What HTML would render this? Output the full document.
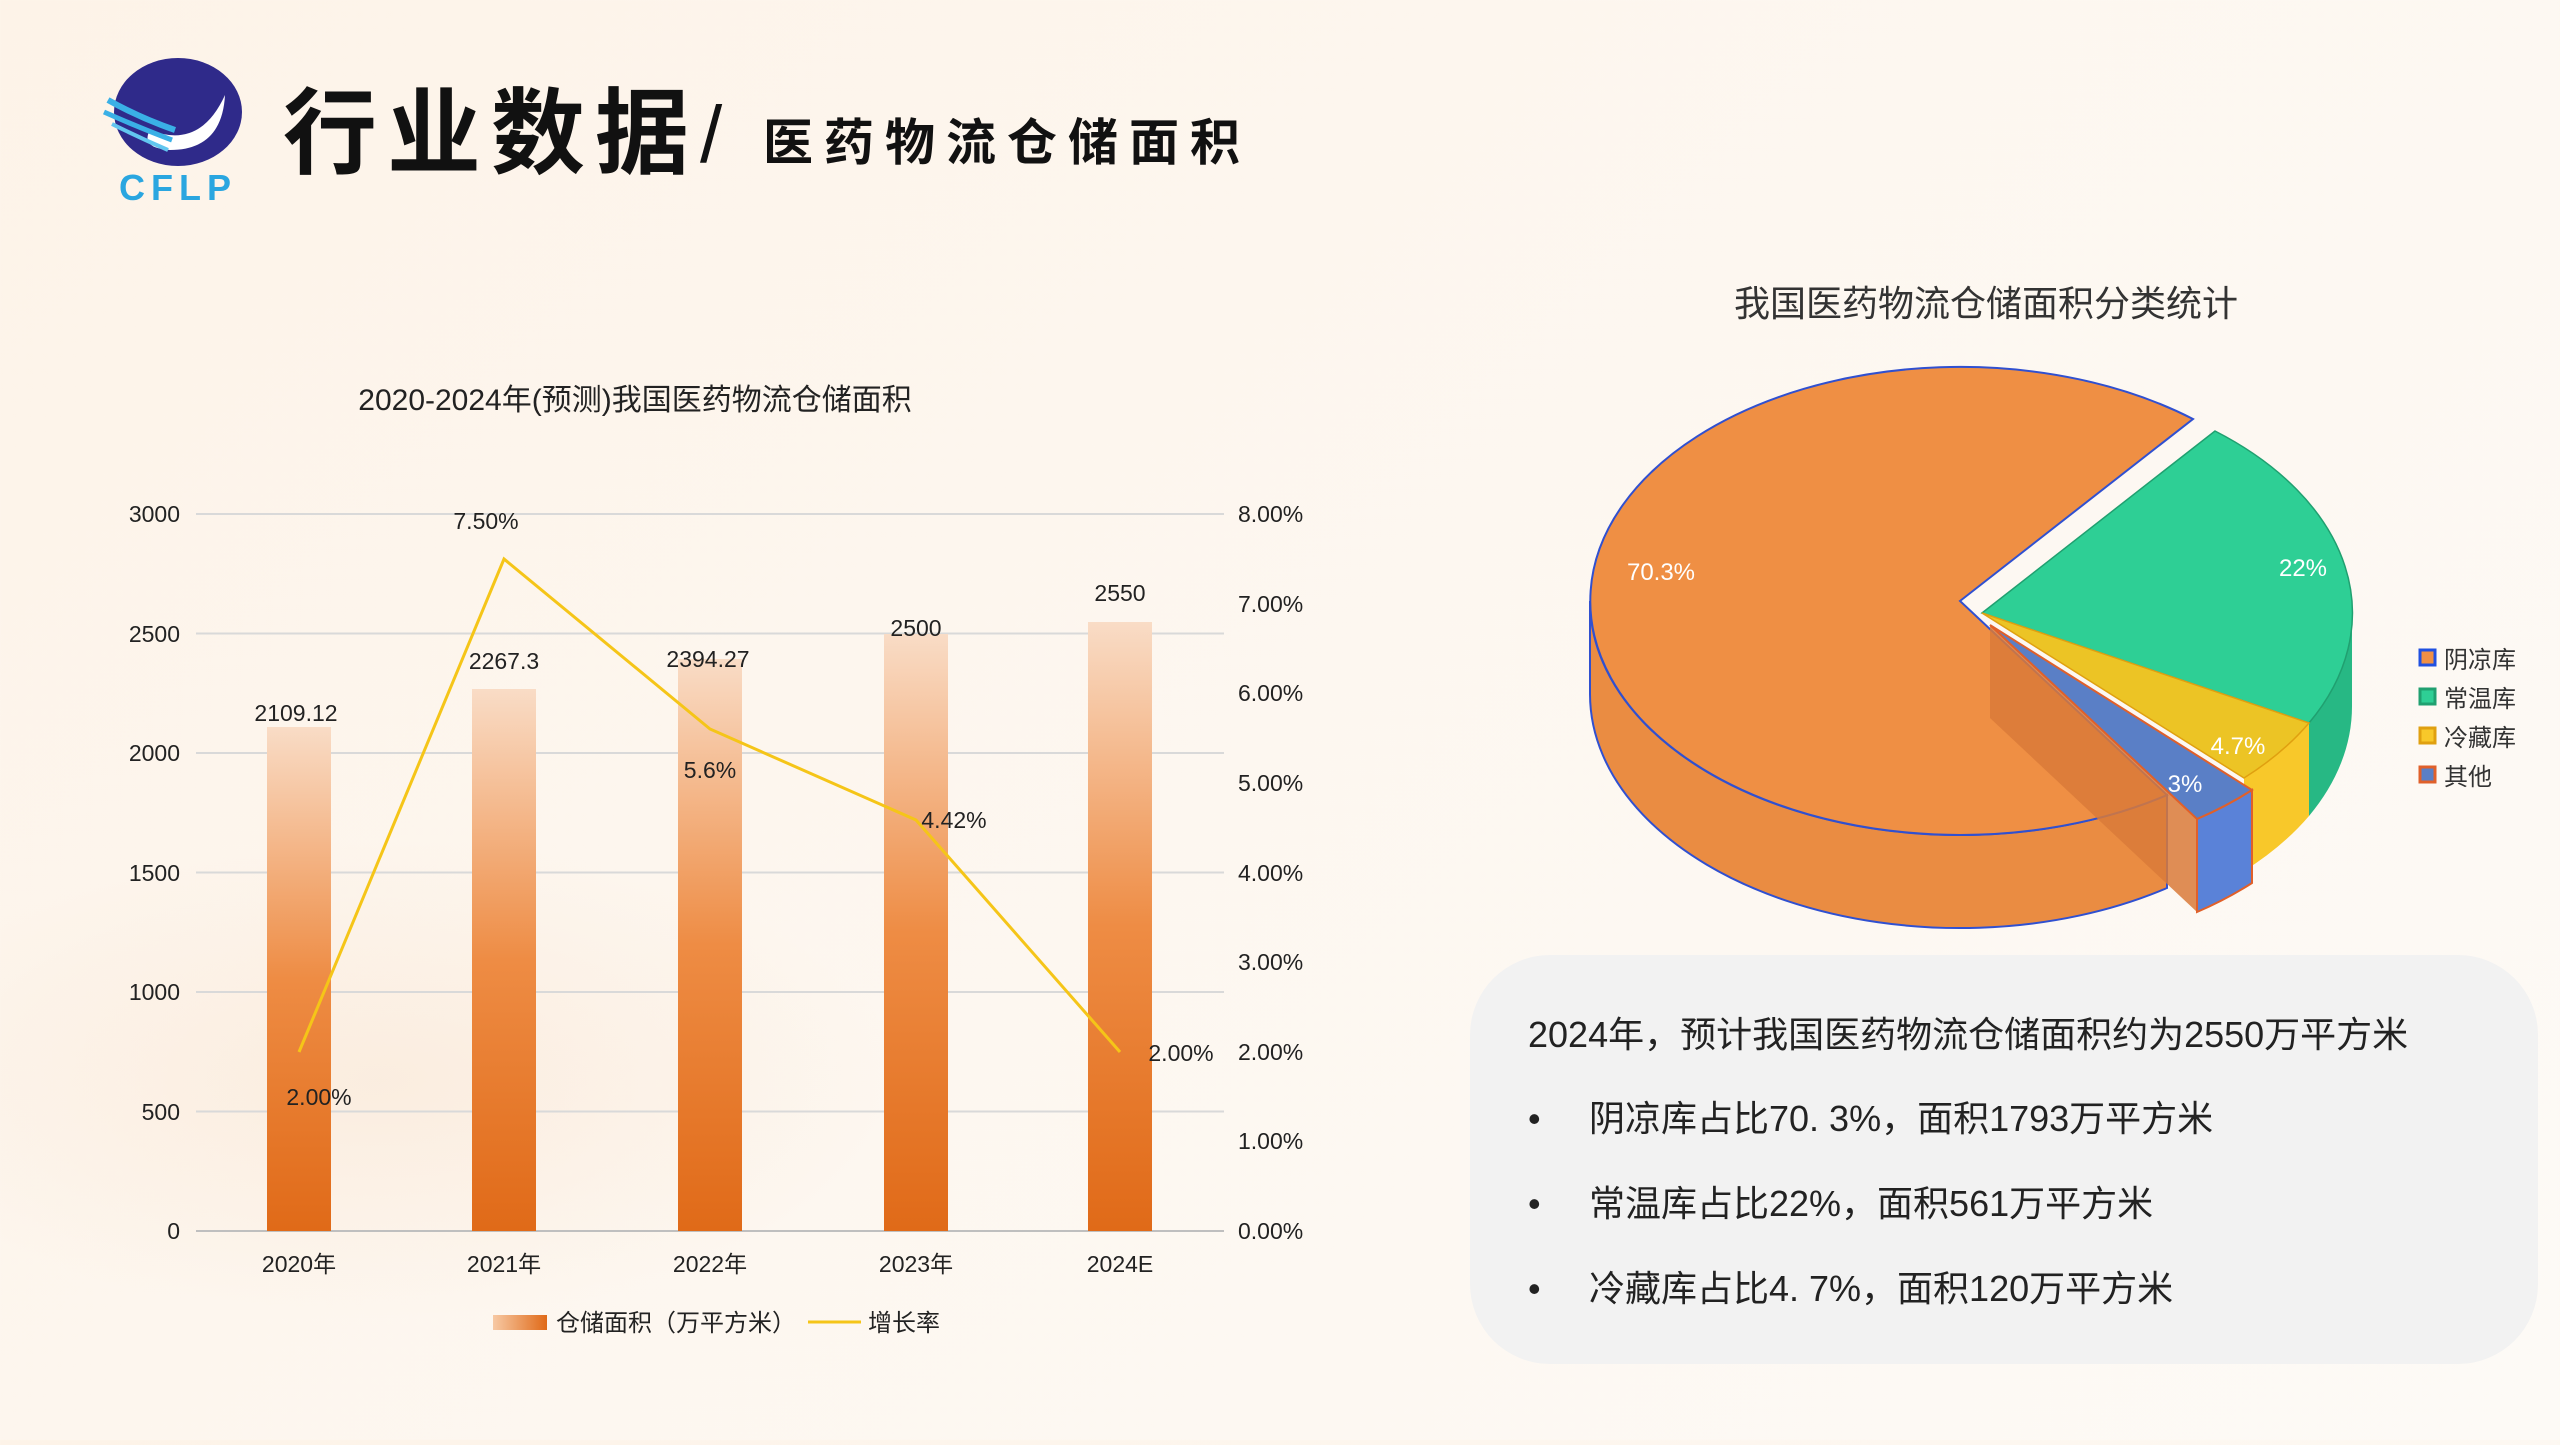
<!DOCTYPE html>
<html><head><meta charset="utf-8"><style>
html,body{margin:0;padding:0;}
body{width:2560px;height:1440px;overflow:hidden;background:linear-gradient(135deg,#fdf3e8 0%,#fdf7f0 50%,#fdfaf6 100%);font-family:"Liberation Sans","Noto Sans CJK SC",sans-serif;}
svg text{font-family:"Liberation Sans","Noto Sans CJK SC",sans-serif;}
</style></head><body>
<svg width="2560" height="1440" viewBox="0 0 2560 1440" xmlns="http://www.w3.org/2000/svg">
<defs>
<linearGradient id="bar" x1="0" y1="0" x2="0" y2="1">
<stop offset="0" stop-color="#f9dcc6"/><stop offset="0.5" stop-color="#ee8c44"/><stop offset="1" stop-color="#e06a18"/></linearGradient>
<linearGradient id="barh" x1="0" y1="0" x2="1" y2="0">
<stop offset="0" stop-color="#f7c9a4"/><stop offset="1" stop-color="#e06a18"/></linearGradient>
<radialGradient id="swirl" cx="0.5" cy="0.5" r="0.5"><stop offset="0" stop-color="#f6dcc4" stop-opacity="0.35"/><stop offset="1" stop-color="#f6dcc4" stop-opacity="0"/></radialGradient>
</defs>
<ellipse cx="380" cy="1080" rx="520" ry="240" fill="url(#swirl)"/>
<!-- logo -->
<ellipse cx="178" cy="112" rx="64" ry="54" fill="#2f2a8a"/>
<path d="M150,130 Q200,150 225,95 Q222,150 170,150 Q140,148 150,130Z" fill="#fff"/>
<path d="M108,100 Q140,118 175,130" stroke="#3ab0e6" stroke-width="6" fill="none"/>
<path d="M104,112 Q140,128 172,140" stroke="#3ab0e6" stroke-width="5" fill="none"/>
<path d="M112,124 Q140,138 168,150" stroke="#62c6f0" stroke-width="4" fill="none"/>
<text x="178" y="200" font-size="36" font-weight="bold" fill="#2aa6e0" text-anchor="middle" letter-spacing="6">CFLP</text>
<!-- header -->
<text x="283" y="166" font-size="94" font-weight="bold" fill="#111" letter-spacing="10">行业数据</text>
<text x="700" y="162" font-size="80" fill="#111">/</text>
<text x="763" y="160" font-size="50" font-weight="bold" fill="#111" letter-spacing="11">医药物流仓储面积</text>
<!-- left chart -->
<text x="635" y="410" font-size="30" fill="#222" text-anchor="middle">2020-2024年(预测)我国医药物流仓储面积</text>
<g stroke="#d9d9d9" stroke-width="2">
<line x1="196" y1="514" x2="1224" y2="514"/><line x1="196" y1="633.5" x2="1224" y2="633.5"/><line x1="196" y1="753" x2="1224" y2="753"/><line x1="196" y1="872.5" x2="1224" y2="872.5"/><line x1="196" y1="992" x2="1224" y2="992"/><line x1="196" y1="1111.5" x2="1224" y2="1111.5"/>
<line x1="196" y1="1231" x2="1224" y2="1231" stroke="#bfbfbf"/>
</g>
<g font-size="23" fill="#222" text-anchor="end">
<text x="180" y="522">3000</text><text x="180" y="642">2500</text><text x="180" y="761">2000</text><text x="180" y="881">1500</text><text x="180" y="1000">1000</text><text x="180" y="1120">500</text><text x="180" y="1239">0</text>
</g>
<g font-size="23" fill="#222">
<text x="1238" y="522">8.00%</text><text x="1238" y="612">7.00%</text><text x="1238" y="701">6.00%</text><text x="1238" y="791">5.00%</text><text x="1238" y="881">4.00%</text><text x="1238" y="970">3.00%</text><text x="1238" y="1060">2.00%</text><text x="1238" y="1149">1.00%</text><text x="1238" y="1239">0.00%</text>
</g>
<g fill="url(#bar)">
<rect x="267" y="727" width="64" height="504"/>
<rect x="472" y="689" width="64" height="542"/>
<rect x="678" y="659" width="64" height="572"/>
<rect x="884" y="634" width="64" height="597"/>
<rect x="1088" y="622" width="64" height="609"/>
</g>
<g font-size="23" fill="#222" text-anchor="middle">
<text x="296" y="721">2109.12</text><text x="504" y="669">2267.3</text><text x="708" y="667">2394.27</text><text x="916" y="636">2500</text><text x="1120" y="601">2550</text>
</g>
<polyline points="299,1052 504,559 710,729 916,820 1120,1052" fill="none" stroke="#f5c518" stroke-width="3"/>
<g font-size="23" fill="#222" text-anchor="middle">
<text x="486" y="529">7.50%</text><text x="710" y="778">5.6%</text><text x="954" y="828">4.42%</text><text x="1181" y="1061">2.00%</text><text x="319" y="1105">2.00%</text>
</g>
<g font-size="23" fill="#222" text-anchor="middle">
<text x="299" y="1272">2020年</text><text x="504" y="1272">2021年</text><text x="710" y="1272">2022年</text><text x="916" y="1272">2023年</text><text x="1120" y="1272">2024E</text>
</g>
<rect x="493" y="1315" width="54" height="15" fill="url(#barh)"/>
<text x="556" y="1331" font-size="24" fill="#222">仓储面积（万平方米）</text>
<line x1="808" y1="1322" x2="861" y2="1322" stroke="#f5c518" stroke-width="3"/>
<text x="868" y="1331" font-size="24" fill="#222">增长率</text>
<!-- pie -->
<text x="1986" y="316" font-size="36" fill="#333" text-anchor="middle">我国医药物流仓储面积分类统计</text>
<path d="M1960,601 L2167,795 L2167,888 L1960,694Z" fill="#e07f3a" opacity="0.9"/>
<path d="M2167,795 A370,234 0 0 1 1590,601 L1590,694 A370,234 0 0 0 2167,888Z" fill="#ea8c42" stroke="#3050d0" stroke-width="2"/>
<path d="M1960,601 L2193,419 A370,234 0 1 0 2167,795Z" fill="#ef8f44" stroke="#3050d0" stroke-width="2"/>
<path d="M2352,613 A370,234 0 0 1 2309,723 L2309,816 A370,234 0 0 0 2352,706Z" fill="#27b884"/>
<path d="M2309,723 A370,234 0 0 1 2244,778 L2244,871 A370,234 0 0 0 2309,816Z" fill="#f8c82a"/>
<path d="M1982,613 L2215,431 A370,234 0 0 1 2309,723Z" fill="#2ecf95" stroke="#20a070" stroke-width="1.5"/>
<path d="M1982,613 L2309,723 A370,234 0 0 1 2244,778Z" fill="#ecc425" stroke="#e0a010" stroke-width="1.5"/>
<path d="M1990,625 L2197,819 L2197,912 L1990,718Z" fill="#d97a38" opacity="0.85"/>
<path d="M2252,790 A370,234 0 0 1 2197,819 L2197,912 A370,234 0 0 0 2252,883Z" fill="#5a82d8" stroke="#e0602a" stroke-width="2"/>
<path d="M1990,625 L2252,790 A370,234 0 0 1 2197,819Z" fill="#5a7fc6" stroke="#e0602a" stroke-width="2"/>
<g font-size="24" fill="#fff" text-anchor="middle">
<text x="1661" y="580">70.3%</text><text x="2303" y="576">22%</text><text x="2238" y="754">4.7%</text><text x="2185" y="792">3%</text>
</g>
<g font-size="24" fill="#333">
<rect x="2420" y="650" width="15" height="15" fill="#ef8f44" stroke="#2050e0" stroke-width="3"/><text x="2444" y="668">阴凉库</text>
<rect x="2420" y="689" width="15" height="15" fill="#2ecf95" stroke="#20a070" stroke-width="3"/><text x="2444" y="707">常温库</text>
<rect x="2420" y="728" width="15" height="15" fill="#f8c82a" stroke="#e0a010" stroke-width="3"/><text x="2444" y="746">冷藏库</text>
<rect x="2420" y="767" width="15" height="15" fill="#5a7fc6" stroke="#e0602a" stroke-width="3"/><text x="2444" y="785">其他</text>
</g>
<!-- text box -->
<rect x="1470" y="955" width="1068" height="409" rx="80" fill="#f2f2f2"/>
<g font-size="36" fill="#222">
<text x="1528" y="1047">2024年，预计我国医药物流仓储面积约为2550万平方米</text>
<text x="1528" y="1131">•</text><text x="1589" y="1131">阴凉库占比70. 3%，面积1793万平方米</text>
<text x="1528" y="1216">•</text><text x="1589" y="1216">常温库占比22%，面积561万平方米</text>
<text x="1528" y="1301">•</text><text x="1589" y="1301">冷藏库占比4. 7%，面积120万平方米</text>
</g>
</svg>
</body></html>
